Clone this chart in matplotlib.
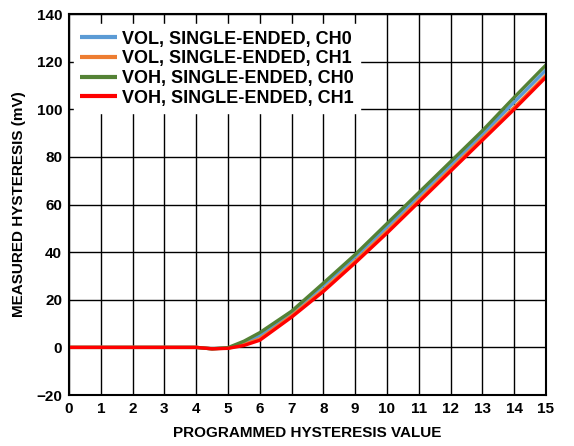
import matplotlib.pyplot as plt

plt.rcParams['font.family'] = ['Liberation Sans', 'DejaVu Sans']
plt.rcParams['font.weight'] = 'bold'

code = [0, 1, 2, 3, 4, 4.5, 5, 5.5, 6, 7, 8, 9, 10, 11, 12, 13, 14, 15]
vol_ch0 = [0, 0, 0, 0, 0, -0.6, -0.2, 2.0, 5.0, 14.5, 26.0, 38.0, 50.5, 63.5, 76.5, 89.5, 103.0, 116.5]
vol_ch1 = [0, 0, 0, 0, 0, -0.6, -0.3, 1.2, 3.6, 13.3, 24.2, 36.2, 48.8, 61.8, 74.8, 87.8, 100.8, 114.3]
voh_ch0 = [0, 0, 0, 0, 0, -0.6, -0.1, 2.6, 6.2, 15.2, 27.0, 39.0, 52.0, 65.0, 78.0, 91.0, 105.0, 118.6]
voh_ch1 = [0, 0, 0, 0, 0, -0.6, -0.4, 0.8, 3.0, 12.7, 23.5, 35.5, 48.0, 61.0, 74.0, 87.0, 100.0, 113.5]

labels = ['VOL, SINGLE-ENDED, CH0', 'VOL, SINGLE-ENDED, CH1',
          'VOH, SINGLE-ENDED, CH0', 'VOH, SINGLE-ENDED, CH1']
colors = ['#5b9bd5', '#ed7d31', '#548235', '#ff0000']

fig = plt.figure(figsize=(5.74, 4.46), dpi=100)
ax = fig.add_axes([0.1202, 0.1143, 0.831, 0.8543])

for ys, lab, c in zip([vol_ch0, vol_ch1, voh_ch0, voh_ch1], labels, colors):
    ax.plot(code, ys, color=c, lw=2.4, label=lab, solid_capstyle='butt')

ax.set_xlim(0, 15)
ax.set_ylim(-20, 140)
ax.set_xticks(range(0, 16))
ax.set_yticks(range(-20, 141, 20))
ax.grid(True, color='black', lw=1.0)
ax.set_axisbelow(True)
ax.tick_params(length=0, labelsize=11, pad=5)
for s in ax.spines.values():
    s.set_linewidth(1.5)

ax.set_xlabel('PROGRAMMED HYSTERESIS VALUE', fontsize=11, fontweight='bold', labelpad=7)
ax.set_ylabel('MEASURED HYSTERESIS (mV)', fontsize=11, fontweight='bold', labelpad=7)

leg = ax.legend(loc='upper left', bbox_to_anchor=(0, 0.985), frameon=True, fontsize=13,
                handlelength=2.05, handletextpad=0.3, labelspacing=0.15,
                borderpad=0.35, borderaxespad=0.25,
                fancybox=False, edgecolor='white', framealpha=1)
for t in leg.get_texts():
    t.set_fontweight('bold')
for h in leg.get_lines():
    h.set_linewidth(3)

fig.savefig('out.png', dpi=100)
